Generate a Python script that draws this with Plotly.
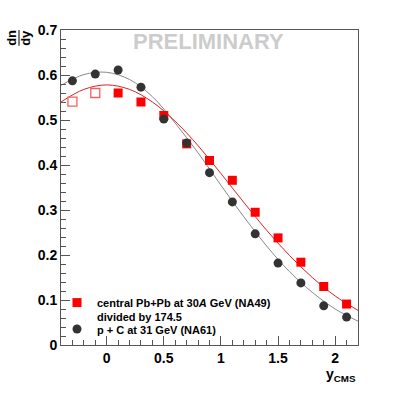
import plotly.graph_objects as go

# ---- data ----
x_pts = [-0.3, -0.1, 0.1, 0.3, 0.5, 0.7, 0.9, 1.1, 1.3, 1.5, 1.7, 1.9, 2.1]
pbpb_open_x = [-0.3, -0.1]
pbpb_open = [0.541, 0.560]
pbpb_filled_x = [0.1, 0.3, 0.5, 0.7, 0.9, 1.1, 1.3, 1.5, 1.7, 1.9, 2.1]
pbpb_filled = [0.560, 0.540, 0.510, 0.447, 0.410, 0.366, 0.295, 0.238, 0.184, 0.130, 0.091]
pc = [0.587, 0.602, 0.611, 0.573, 0.502, 0.449, 0.383, 0.318, 0.247, 0.182, 0.138, 0.087, 0.062]

curve_x = [-0.4, -0.2, 0.0, 0.2, 0.4, 0.6, 0.8, 1.0, 1.2, 1.4, 1.6, 1.8, 2.0, 2.2]
pbpb_fit = [0.540, 0.568, 0.578, 0.568, 0.540, 0.497, 0.443, 0.381, 0.317, 0.255, 0.199, 0.150, 0.109, 0.077]
pc_fit = [0.577, 0.601, 0.606, 0.590, 0.552, 0.493, 0.427, 0.355, 0.285, 0.220, 0.163, 0.117, 0.080, 0.053]

y_tickvals = [0, 0.1, 0.2, 0.3, 0.4, 0.5, 0.6, 0.7]
y_ticktext = ["0", "0.1", "0.2", "0.3", "0.4", "0.5", "0.6", "0.7"]
x_tickvals = [0, 0.5, 1, 1.5, 2]
x_ticktext = ["0", "0.5", "1", "1.5", "2"]

FONT = "Liberation Sans, Arial, Helvetica, sans-serif"
RED = "#ff0000"
DARK = "#333333"

fig = go.Figure()

fig.add_trace(go.Scatter(x=curve_x, y=pc_fit, mode="lines", line=dict(color="#888888", width=1, shape="spline"),
                         showlegend=False, hoverinfo="skip"))
fig.add_trace(go.Scatter(x=curve_x, y=pbpb_fit, mode="lines", line=dict(color="#e02020", width=1, shape="spline"),
                         showlegend=False, hoverinfo="skip"))

fig.add_trace(go.Scatter(x=pbpb_filled_x, y=pbpb_filled, mode="markers",
                         marker=dict(symbol="square", size=9, color=RED, line=dict(width=0)),
                         name="central Pb+Pb at 30<i>A</i> GeV (NA49)<br>divided by 174.5", legend="legend"))
fig.add_trace(go.Scatter(x=pbpb_open_x, y=pbpb_open, mode="markers",
                         marker=dict(symbol="square-open", size=9, color="#f06060", line=dict(width=1.3)),
                         showlegend=False))
fig.add_trace(go.Scatter(x=x_pts, y=pc, mode="markers",
                         marker=dict(symbol="circle", size=9, color=DARK, line=dict(width=0)),
                         name="p + C at 31 GeV (NA61)", legend="legend2"))

axis_common = dict(showgrid=False, zeroline=False, ticks="inside", showline=True, mirror=True,
                   linecolor="#555555", linewidth=1, tickcolor="#555555",
                   tickfont=dict(family=FONT, size=14, color="black", weight="bold"))

fig.update_xaxes(range=[-0.4, 2.2], tickvals=x_tickvals, ticktext=x_ticktext, ticklen=9,
                 minor=dict(dtick=0.1, tick0=0, ticklen=5, ticks="inside", tickcolor="#555555"),
                 **axis_common)
fig.update_yaxes(range=[0, 0.7], tickvals=y_tickvals, ticktext=y_ticktext, ticklen=9,
                 minor=dict(dtick=0.02, tick0=0, ticklen=5, ticks="inside", tickcolor="#555555"),
                 **axis_common)

legend_font = dict(family=FONT, size=11, color="black", weight="bold")

fig.update_layout(
    width=407, height=395,
    margin=dict(l=61, r=49, t=30, b=50),
    plot_bgcolor="white", paper_bgcolor="white",
    font=dict(family=FONT, color="black"),
    legend=dict(x=-0.0135, y=0.178, xanchor="left", yanchor="top", bgcolor="rgba(0,0,0,0)",
                font=legend_font, itemwidth=30, valign="top"),
    legend2=dict(x=-0.0135, y=0.094, xanchor="left", yanchor="top", bgcolor="rgba(0,0,0,0)",
                 font=legend_font, itemwidth=30, valign="top"),
    shapes=[
        dict(type="line", xref="paper", yref="paper", x0=-0.1414, x1=-0.1414,
             y0=1.0, y1=0.95, line=dict(color="black", width=1)),
    ],
    annotations=[
        dict(text="PRELIMINARY", xref="paper", yref="paper", x=0.497, y=0.963, xanchor="center", yanchor="middle",
             showarrow=False, font=dict(family=FONT, size=22, color="#cccccc", weight="bold")),
        dict(text="dn", xref="paper", yref="paper", x=-0.165, y=0.975, xanchor="center", yanchor="middle",
             textangle=-90, showarrow=False, font=dict(family=FONT, size=13, color="black", weight="bold")),
        dict(text="dy", xref="paper", yref="paper", x=-0.118, y=0.975, xanchor="center", yanchor="middle",
             textangle=-90, showarrow=False, font=dict(family=FONT, size=13, color="black", weight="bold")),
        dict(text="y<sub>CMS</sub>", xref="paper", yref="paper", x=1.0, y=-0.095, xanchor="right", yanchor="middle",
             showarrow=False, font=dict(family=FONT, size=14, color="black", weight="bold")),
    ],
)

fig.write_html("out.html", config={"displayModeBar": False},
               post_script="document.body.style.margin='0';")
